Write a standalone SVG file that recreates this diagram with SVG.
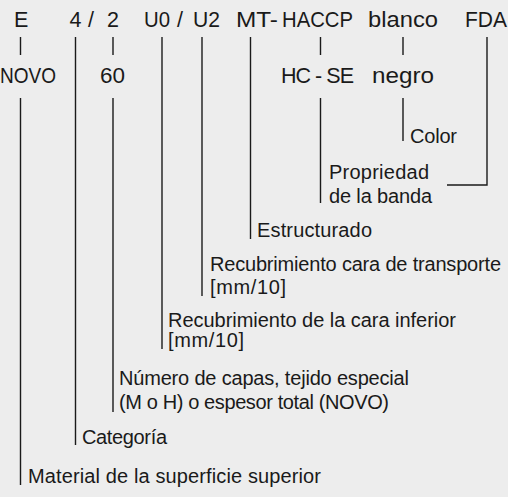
<svg xmlns="http://www.w3.org/2000/svg" width="508" height="497" viewBox="0 0 508 497">
<style>
text{font-family:"Liberation Sans",Arial,sans-serif;font-size:20px;fill:#1a1a1a}
.t{font-size:21.5px}
.c{stroke:#1a1a1a;stroke-width:1.4;fill:none}
</style>
<rect width="508" height="497" fill="#ededed"/>
<g id="code-top">
<text class="t" x="14" y="26.5">E</text>
<text class="t" x="69.5" y="26.5">4</text>
<text class="t" x="88" y="26.5">/</text>
<text class="t" x="107" y="26.5">2</text>
<text class="t" x="144" y="26.5" textLength="26" lengthAdjust="spacingAndGlyphs">U0</text>
<text class="t" x="177" y="26.5">/</text>
<text class="t" x="193" y="26.5" textLength="27" lengthAdjust="spacingAndGlyphs">U2</text>
<text class="t" x="236" y="26.5" textLength="42" lengthAdjust="spacingAndGlyphs">MT-</text>
<text class="t" x="282" y="26.5" textLength="71" lengthAdjust="spacingAndGlyphs">HACCP</text>
<text class="t" x="368" y="26.5" textLength="70" lengthAdjust="spacingAndGlyphs">blanco</text>
<text class="t" x="465" y="26.5" textLength="42" lengthAdjust="spacingAndGlyphs">FDA</text>
</g>
<g id="code-bottom">
<text class="t" x="0" y="83" textLength="56" lengthAdjust="spacingAndGlyphs">NOVO</text>
<text class="t" x="100" y="83" textLength="25" lengthAdjust="spacingAndGlyphs">60</text>
<text class="t" x="281" y="83" textLength="73">HC - SE</text>
<text class="t" x="372" y="83" textLength="62" lengthAdjust="spacingAndGlyphs">negro</text>
</g>
<g id="connectors">
<path class="c" d="M20.5,37V55M20.5,98V485"/>
<path class="c" d="M75.5,37V445"/>
<path class="c" d="M113,37V55M113,98V412"/>
<path class="c" d="M162,37V349"/>
<path class="c" d="M202,37V296"/>
<path class="c" d="M250.5,37V239"/>
<path class="c" d="M320.5,37V55M320.5,98V203"/>
<path class="c" d="M403,37V55M403,98V141"/>
<path class="c" d="M487,37V185H447"/>
</g>
<g id="label-color"><text x="410" y="143" textLength="47">Color</text></g>
<g id="label-propiedad"><text x="329" y="179" textLength="100">Propriedad</text><text x="329" y="203" textLength="103">de la banda</text></g>
<g id="label-estructurado"><text x="257" y="237" textLength="115">Estructurado</text></g>
<g id="label-transporte"><text x="210" y="271" textLength="291">Recubrimiento cara de transporte</text><text x="210" y="294" textLength="76">[mm/10]</text></g>
<g id="label-inferior"><text x="168" y="327" textLength="288">Recubrimiento de la cara inferior</text><text x="168" y="347" textLength="76">[mm/10]</text></g>
<g id="label-capas"><text x="119" y="385" textLength="290">Número de capas, tejido especial</text><text x="119" y="409" textLength="270">(M o H) o espesor total (NOVO)</text></g>
<g id="label-categoria"><text x="82" y="444" textLength="85">Categoría</text></g>
<g id="label-material"><text x="28" y="483" textLength="293">Material de la superficie superior</text></g>
</svg>
